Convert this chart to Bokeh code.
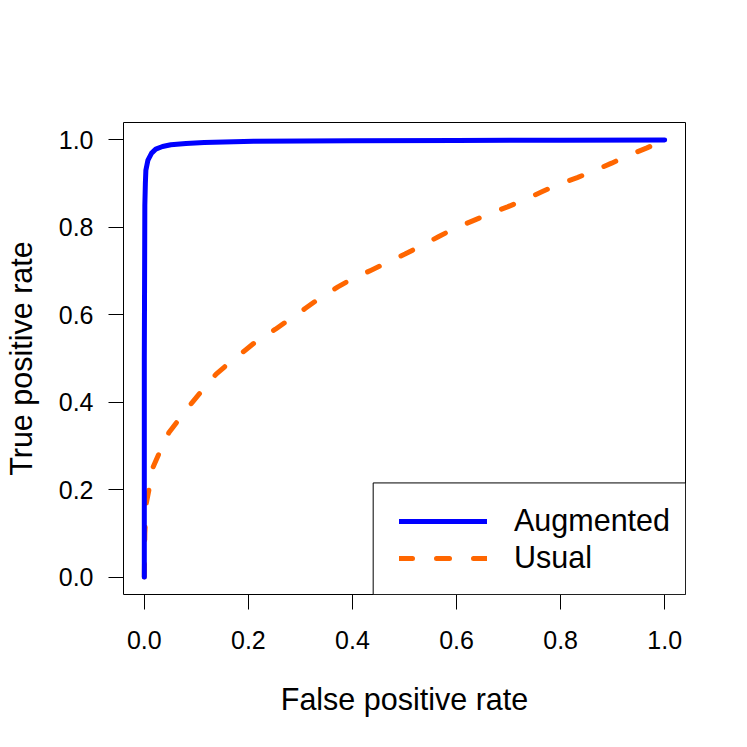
from bokeh.plotting import figure
from bokeh.models import (Range1d, FixedTicker, PrintfTickFormatter, Legend,
                          LegendItem, BoxAnnotation)
from bokeh.embed import file_html
from bokeh.resources import INLINE

# ---- data ----
series_names = ["Augmented", "Usual"]

fpr_aug = [0.0, 0.0, 0.001, 0.002, 0.003, 0.007, 0.014, 0.022, 0.035, 0.051,
           0.08, 0.115, 0.21, 0.4, 0.6, 0.8, 1.0]
tpr_aug = [0.0, 0.5, 0.85, 0.90, 0.931, 0.954, 0.970, 0.979, 0.985, 0.989,
           0.992, 0.994, 0.997, 0.998, 0.999, 0.9995, 1.0]

fpr_usual = [0.0, 0.001, 0.004, 0.010, 0.017, 0.030, 0.047, 0.066, 0.091, 0.112,
             0.138, 0.163, 0.194, 0.218, 0.252, 0.277, 0.311, 0.337, 0.372, 0.399,
             0.436, 0.464, 0.501, 0.529, 0.566, 0.593, 0.631, 0.657, 0.698, 0.726,
             0.765, 0.793, 0.832, 0.859, 0.898, 0.925, 0.966, 1.0]
tpr_usual = [0.0, 0.10, 0.17, 0.206, 0.252, 0.287, 0.33, 0.36, 0.398, 0.428,
             0.464, 0.49, 0.519, 0.542, 0.567, 0.588, 0.616, 0.638, 0.664, 0.682,
             0.702, 0.718, 0.739, 0.756, 0.779, 0.796, 0.815, 0.828, 0.847, 0.861,
             0.882, 0.897, 0.914, 0.927, 0.947, 0.962, 0.982, 1.0]

x_ticks = [0.0, 0.2, 0.4, 0.6, 0.8, 1.0]
y_ticks = [0.0, 0.2, 0.4, 0.6, 0.8, 1.0]
x_title = "False positive rate"
y_title = "True positive rate"

FONT = "Liberation Sans"

p = figure(frame_width=562, frame_height=472,
           min_border_left=122, min_border_right=40,
           min_border_top=122, min_border_bottom=130,
           x_range=Range1d(-0.04, 1.04), y_range=Range1d(-0.04, 1.04),
           output_backend="svg", toolbar_location=None)
p.background_fill_color = "white"
p.border_fill_color = "white"
p.grid.visible = False
p.outline_line_color = "black"
p.outline_line_width = 1
p.outline_line_alpha = 1

p.xaxis.axis_label = x_title
p.yaxis.axis_label = y_title

for ax, ticks, standoff, title_standoff in ((p.xaxis[0], x_ticks, 21, 30),
                                            (p.yaxis[0], y_ticks, 15, 18)):
    ax.ticker = FixedTicker(ticks=ticks)
    ax.formatter = PrintfTickFormatter(format="%.1f")
    ax.axis_line_color = None
    ax.major_tick_out = 15
    ax.major_tick_in = 0
    ax.minor_tick_line_color = None
    ax.major_tick_line_color = "black"
    ax.major_tick_line_width = 1
    ax.major_label_text_font = FONT
    ax.major_label_text_font_size = "25px"
    ax.major_label_text_color = "black"
    ax.major_label_standoff = standoff
    ax.axis_label_text_font = FONT
    ax.axis_label_text_font_size = "30.5px"
    ax.axis_label_text_font_style = "normal"
    ax.axis_label_text_color = "black"
    ax.axis_label_standoff = title_standoff

r_usual = p.line(fpr_usual, tpr_usual, line_color="#FF6600", line_width=5,
                 line_dash="13 24", line_cap="round", line_join="round")
r_aug = p.line(fpr_aug, tpr_aug, line_color="#0000FF", line_width=5,
               line_cap="round", line_join="round")

box = BoxAnnotation(left=0.4398, top=0.2153, fill_color="white", fill_alpha=1,
                    line_color="black", line_width=1, line_alpha=1)
p.add_layout(box)

legend = Legend(items=[LegendItem(label=series_names[0], renderers=[r_aug]),
                       LegendItem(label=series_names[1], renderers=[r_usual])],
                location=(276, 19), border_line_color=None,
                background_fill_alpha=0, padding=0, margin=0, spacing=2,
                glyph_width=88, glyph_height=20, label_standoff=27,
                label_height=20, label_text_font=FONT,
                label_text_font_size="30.5px", label_text_color="black")
p.add_layout(legend)

open("out.html", "w").write(file_html(p, INLINE))
